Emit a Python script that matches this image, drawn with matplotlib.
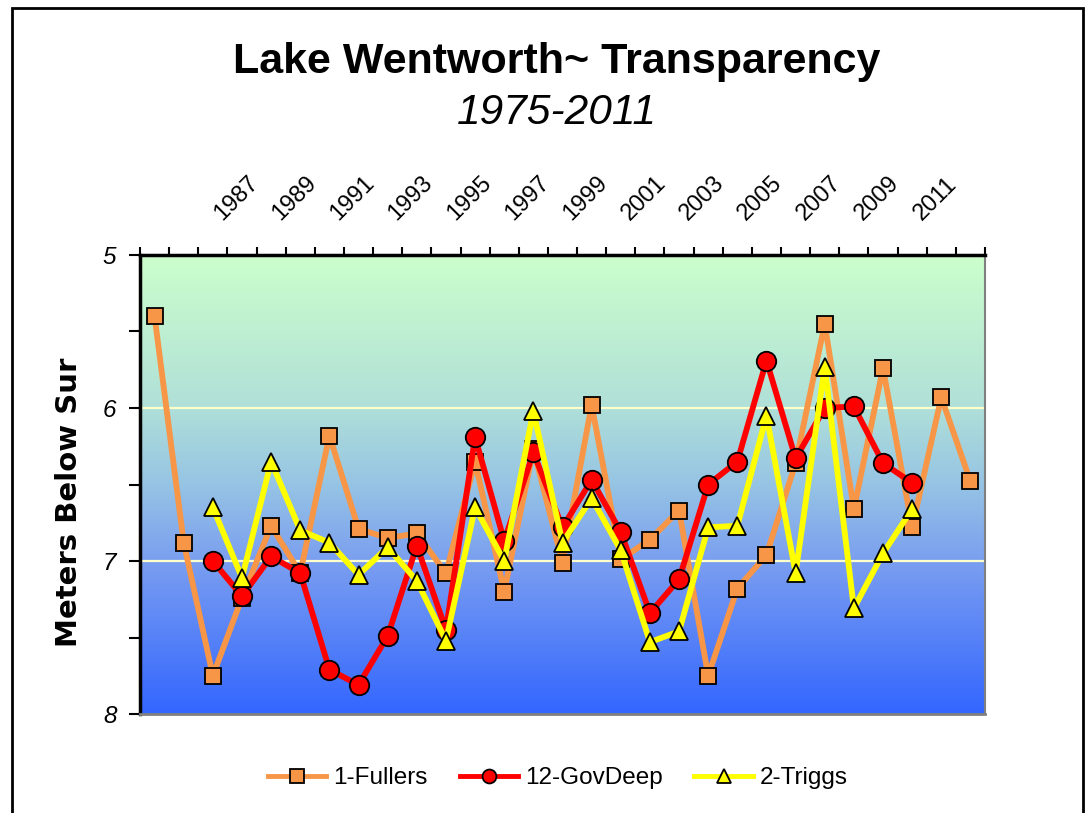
import numpy as np
import matplotlib.pyplot as plt
import matplotlib.transforms as mtransforms
from matplotlib.colors import LinearSegmentedColormap
from matplotlib.patches import Rectangle

nan = np.nan

# categorias (1983-2011), solo algunas etiquetas visibles
anios = list(range(1983, 2012))
etiquetas = ['', '', '', '', '1987', '', '1989', '', '1991', '', '1993', '', '1995', '',
             '1997', '', '1999', '', '2001', '', '2003', '', '2005', '', '2007', '',
             '2009', '', '2011']

fullers = [5.40, 6.88, 7.75, 7.24, 6.77, 7.08, 6.18, 6.79, 6.85, 6.82, 7.08, 6.35, 7.20, 6.27,
           7.01, 5.98, 6.99, 6.86, 6.67, 7.75, 7.18, 6.96, 6.36, 5.45, 6.66, 5.74, 6.78, 5.93, 6.48]
govdeep = [nan, nan, 7.00, 7.23, 6.97, 7.08, 7.71, 7.81, 7.49, 6.90, 7.45, 6.19, 6.87, 6.29,
           6.78, 6.47, 6.81, 7.34, 7.12, 6.50, 6.35, 5.69, 6.33, 6.00, 5.99, 6.36, 6.49, nan, nan]
triggs = [nan, nan, 6.65, 7.11, 6.35, 6.80, 6.88, 7.09, 6.91, 7.13, 7.52, 6.65, 7.00, 6.02,
          6.88, 6.59, 6.93, 7.53, 7.46, 6.78, 6.77, 6.05, 7.08, 5.73, 7.31, 6.95, 6.66, nan, nan]

plt.rcParams['font.family'] = ['Liberation Sans', 'DejaVu Sans']


def graficar():
    fig = plt.figure(figsize=(10.9, 8.13), dpi=100)
    ax = fig.add_axes([140 / 1090, 1 - 714 / 813, 845 / 1090, 459 / 813])

    # marco de la figura
    fig.patches.append(Rectangle((12 / 1090, -0.02), 1071 / 1090, 1.02 - 8 / 813,
                                 transform=fig.transFigure, fill=False,
                                 edgecolor='black', linewidth=2))

    # fondo degradado del area de trazado
    cmap = LinearSegmentedColormap.from_list(
        'lago', [(0.0, '#CCFFCC'), (0.33, '#B0E0D8'), (0.5, '#96C4E4'),
                 (0.67, '#7A9EF0'), (1.0, '#3366FF')])
    grad = np.linspace(0, 1, 256).reshape(-1, 1)
    ax.imshow(grad, cmap=cmap, aspect='auto', extent=[0, 1, 0, 1],
              transform=ax.transAxes, zorder=0, interpolation='bicubic')

    x = np.arange(len(anios))
    for yy in [6, 7]:
        ax.axhline(yy, color='#FFFFCC', linewidth=1.6, zorder=1)

    ax.plot(x, fullers, color='#F79646', linewidth=4.2, marker='s', markersize=12,
            markerfacecolor='#F79646', markeredgecolor='black', markeredgewidth=1.3,
            label='1-Fullers', zorder=3)
    ax.plot(x, govdeep, color='#FF0000', linewidth=4.2, marker='o', markersize=14,
            markerfacecolor='#FF0000', markeredgecolor='black', markeredgewidth=1.3,
            label='12-GovDeep', zorder=4)
    ax.plot(x, triggs, color='#FFFF00', linewidth=4.2, marker='^', markersize=13,
            markerfacecolor='#FFFF00', markeredgecolor='black', markeredgewidth=1.3,
            label='2-Triggs', zorder=5)

    ax.set_xlim(-0.5, len(anios) - 0.5)
    ax.set_ylim(8, 5)

    # eje y
    ax.set_yticks([5, 6, 7, 8])
    ax.set_yticks([5.5, 6.5, 7.5], minor=True)
    ax.tick_params(axis='y', which='both', direction='out', length=8, width=1.5,
                   labelsize=17.5, pad=9)
    for t in ax.get_yticklabels():
        t.set_fontstyle('italic')
    ax.set_ylabel('Meters Below Sur', fontsize=21, fontweight='bold',
                  family='DejaVu Sans')
    ax.yaxis.set_label_coords(-0.068, 0.462)

    # eje x arriba
    ax.xaxis.tick_top()
    ax.set_xticks(x)
    ax.set_xticklabels(etiquetas)
    ax.set_xticks(np.arange(len(anios) + 1) - 0.5, minor=True)
    ax.tick_params(axis='x', which='major', length=0, labelsize=17, pad=22)
    ax.tick_params(axis='x', which='minor', direction='out', length=6, width=1.5)
    desplaz = mtransforms.ScaledTranslation(-35 / 100, 0, fig.dpi_scale_trans)
    for t in ax.get_xticklabels():
        t.set_rotation(45)
        t.set_ha('center')
        t.set_va('bottom')
        t.set_transform(t.get_transform() + desplaz)

    ax.spines['left'].set_linewidth(2.5)
    ax.spines['top'].set_linewidth(2.5)
    ax.spines['right'].set_color('#808080')
    ax.spines['right'].set_linewidth(1.5)
    ax.spines['bottom'].set_color('#808080')
    ax.spines['bottom'].set_linewidth(2)

    fig.text(557 / 1090, 1 - 62 / 813, 'Lake Wentworth~ Transparency', ha='center',
             va='center', fontsize=31, fontweight='bold')
    fig.text(557 / 1090, 1 - 113 / 813, '1975-2011', ha='center', va='center',
             fontsize=30.5, fontstyle='italic')

    leg = fig.legend(loc='center', bbox_to_anchor=(558 / 1090, 1 - 778 / 813), ncol=3,
                     frameon=False, fontsize=17.5, handlelength=2.4, columnspacing=1.3,
                     handletextpad=0.3)
    for h in leg.legend_handles:
        h.set_linewidth(3.5)
        h.set_markersize(10)

    fig.savefig('out.png', dpi=100)


def main():
    graficar()


if __name__ == '__main__':
    main()
